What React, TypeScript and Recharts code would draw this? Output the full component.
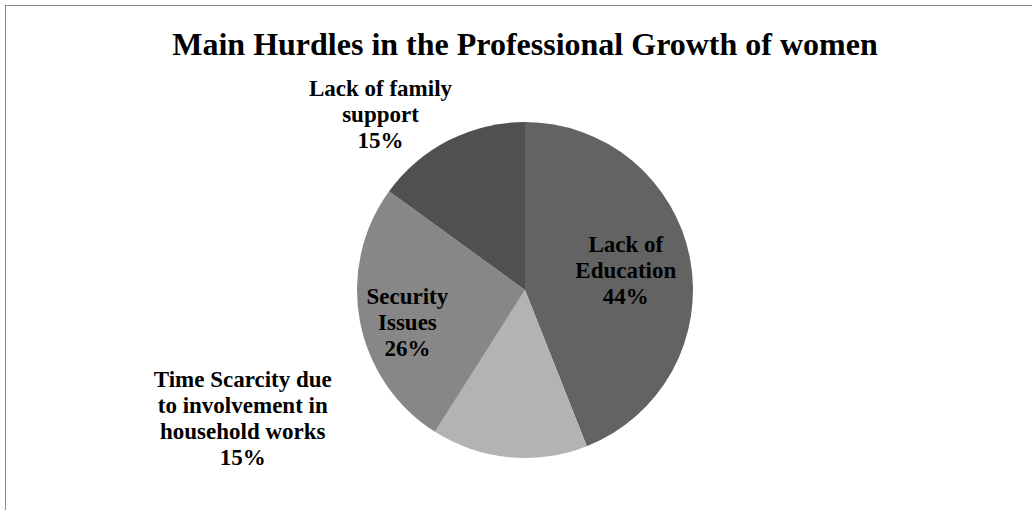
import { PieChart, Pie, Cell } from 'recharts';

const categories = [
  'Lack of Education',
  'Time Scarcity due to involvement in household works',
  'Security Issues',
  'Lack of family support',
];
const shares = [44, 15, 26, 15];
const labelLines = [
  ['Lack of', 'Education', '44%'],
  ['Time Scarcity due', 'to involvement in', 'household works', '15%'],
  ['Security', 'Issues', '26%'],
  ['Lack of family', 'support', '15%'],
];

const sliceColors = ['#636363', '#b3b3b3', '#878787', '#505050'];
// label anchor as a fraction of the outer radius, measured from the centre
const labelSpots = [
  { dx: 0.6, dy: -0.07 },
  { dx: -1.68, dy: 0.81 },
  { dx: -0.7, dy: 0.24 },
  { dx: -0.86, dy: -1.0 },
];

const data = categories.map((name, i) => ({ name, value: shares[i] }));

const FONT = '"Liberation Serif", "Times New Roman", serif';

function renderLabel(props: any) {
  const { cx, cy, outerRadius, index } = props;
  const spot = labelSpots[index];
  const lines = labelLines[index];
  const lh = 26;
  const x = cx + spot.dx * outerRadius;
  const y = cy + spot.dy * outerRadius - ((lines.length - 1) / 2) * lh;
  return (
    <text
      key={index}
      x={x}
      y={y}
      textAnchor="middle"
      fontFamily={FONT}
      fontWeight="bold"
      fontSize={23}
      fill="#000"
    >
      {lines.map((t, i) => (
        <tspan key={i} x={x} dy={i === 0 ? 0 : lh}>
          {t}
        </tspan>
      ))}
    </text>
  );
}

export default function App() {
  return (
    <div style={{ position: 'absolute', left: 0, top: 0, width: 1032, height: 510, background: '#fff', overflow: 'hidden' }}>
      <div
        style={{
          position: 'absolute',
          left: 5,
          top: 5,
          width: 1100,
          height: 600,
          borderLeft: '1px solid #898989',
          borderTop: '1px solid #898989',
        }}
      />
      <div
        style={{
          position: 'absolute',
          left: 0,
          top: 28,
          width: 1050,
          textAlign: 'center',
          fontFamily: FONT,
          fontWeight: 'bold',
          fontSize: 32,
          lineHeight: '32px',
          color: '#000',
        }}
      >
        Main Hurdles in the Professional Growth of women
      </div>
      <div style={{ position: 'absolute', left: 0, top: 0 }}>
        <PieChart width={1032} height={510}>
          <Pie
            data={data}
            dataKey="value"
            nameKey="name"
            cx={520}
            cy={285}
            outerRadius={168}
            startAngle={90}
            endAngle={-270}
            stroke="none"
            label={renderLabel}
            labelLine={false}
            isAnimationActive={false}
          >
            {data.map((d, i) => (
              <Cell key={d.name} fill={sliceColors[i]} />
            ))}
          </Pie>
        </PieChart>
      </div>
    </div>
  );
}
